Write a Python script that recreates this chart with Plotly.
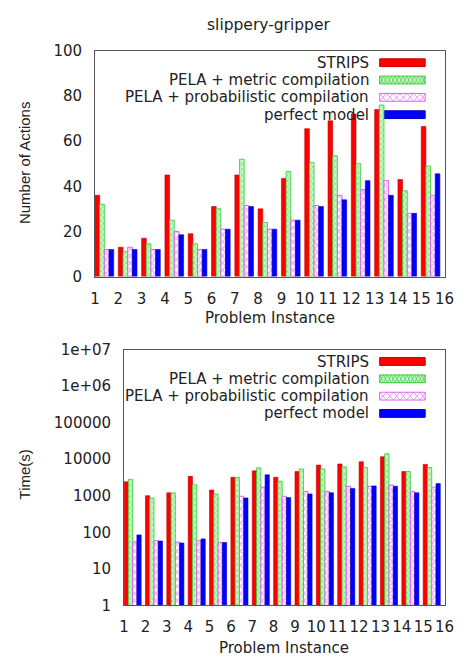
import plotly.graph_objects as go

# ---------------- data ----------------
instances = list(range(1, 16))
series_names = ["STRIPS", "PELA + metric compilation",
                "PELA + probabilistic compilation", "perfect model"]

actions_strips = [36, 13, 17, 45, 19, 31, 45, 30, 43.5, 65.5, 69, 72, 74, 43, 66.5]
actions_metric = [32, 11, 14.5, 25, 14.5, 30, 52, 24, 46.5, 50.5, 53.5, 50, 76, 38, 49]
actions_prob = [12, 13, 12, 20, 12, 21, 31.5, 21, 25, 31.5, 36, 38.5, 42.5, 28, 36]
actions_perfect = [12, 12, 12, 18.5, 12, 21, 31, 21, 25, 31, 34, 42.5, 36, 28, 45.5]

time_strips = [2400, 1000, 1200, 3400, 1430, 3200, 4800, 3200, 4600, 6900, 7400, 8500, 11700, 4600, 7200]
time_metric = [2800, 870, 1200, 2000, 1120, 3200, 5800, 2500, 5400, 5400, 6200, 5900, 14100, 4600, 5900]
time_prob = [55, 59, 54, 59, 53, 970, 1720, 970, 1320, 1320, 1820, 1820, 1980, 1320, 1720]
time_perfect = [85, 58, 51, 66, 53, 870, 3740, 890, 1120, 1210, 1590, 1860, 1820, 1210, 2150]

x_tick_labels = [str(i) for i in range(1, 17)]
y1_tick_vals = [0, 20, 40, 60, 80, 100]
y2_tick_vals = [1, 10, 100, 1000, 10000, 100000, 1000000, 10000000]
y2_tick_text = ["1", "10", "100", "1000", "10000", "100000", "1e+06", "1e+07"]

# ---------------- styling ----------------
W, H = 471, 666
FONT = "DejaVu Sans, Verdana, sans-serif"
FONT_ROT = "Liberation Sans, Arial, sans-serif"
FS = 15
TXT = "#222222"


def px(x):
    return x / W


def py(y):
    return 1 - y / H


styles = [
    dict(color="#ff0000", line=dict(color="#c00000", width=0.6)),
    dict(color="#b8f2b8", line=dict(color="#33cc33", width=0.8),
         pattern=dict(shape="x", fgcolor="#44cc44", bgcolor="#c8f7c8", size=4, solidity=0.35)),
    dict(color="#ffffff", line=dict(color="#d966ec", width=1),
         pattern=dict(shape="x", fgcolor="#e070f0", bgcolor="#ffffff", size=5, solidity=0.55)),
    dict(color="#0000ff", line=dict(color="#0000bb", width=0.6)),
]

fig = go.Figure()

top_series = [actions_strips, actions_metric, actions_prob, actions_perfect]
bot_series = [time_strips, time_metric, time_prob, time_perfect]

for name, vals, st in zip(series_names, top_series, styles):
    fig.add_trace(go.Bar(x=instances, y=vals, name=name, marker=st,
                         xaxis="x", yaxis="y", showlegend=False))
for name, vals, st in zip(series_names, bot_series, styles):
    fig.add_trace(go.Bar(x=instances, y=vals, name=name, marker=st,
                         xaxis="x2", yaxis="y2", showlegend=False))

axis_common = dict(showline=True, mirror=True, linecolor="#555555", linewidth=1,
                   showgrid=False, zeroline=False, ticks="",
                   tickfont=dict(family=FONT, size=FS, color=TXT))

x_tickvals = [i - 0.4 for i in range(1, 17)]

fig.update_layout(
    width=W, height=H,
    margin=dict(l=0, r=0, t=0, b=0),
    paper_bgcolor="white", plot_bgcolor="white",
    barmode="group", bargap=0.2, bargroupgap=0,
    showlegend=False,
    xaxis=dict(domain=[px(93), px(454)], anchor="y", range=[0.6, 15.6],
               tickvals=x_tickvals, ticktext=x_tick_labels, ticklabelstandoff=8,
               **axis_common),
    yaxis=dict(domain=[py(275), py(43)], anchor="x", range=[0, 100],
               tickvals=y1_tick_vals, ticklabelstandoff=9, **axis_common),
    xaxis2=dict(domain=[px(123), px(454)], anchor="y2", range=[0.6, 15.6],
                tickvals=x_tickvals, ticktext=x_tick_labels, ticklabelstandoff=8,
                **axis_common),
    yaxis2=dict(domain=[py(613), py(350)], anchor="x2", type="log", range=[0, 7],
                tickvals=y2_tick_vals, ticktext=y2_tick_text, ticklabelstandoff=9,
                **axis_common),
)

annotations = []
shapes = []


def text(x, y, s, size=FS, xanchor="center", angle=0, family=FONT):
    annotations.append(dict(x=px(x), y=py(y), xref="paper", yref="paper", text=s,
                            showarrow=False, xanchor=xanchor, yanchor="middle",
                            textangle=angle, borderpad=0,
                            font=dict(family=family, size=size, color=TXT)))


text(273, 16, "slippery-gripper", size=15.5)
text(20, 158, "Number of Actions", size=15, angle=-90, family=FONT_ROT)
text(273.5, 318, "Problem Instance")
text(20, 478, "Time(s)", size=15, angle=-90, family=FONT_ROT)
text(288.5, 657, "Problem Instance")


def legend(rows_y):
    for name, st, yc in zip(series_names, styles, rows_y):
        text(377, yc, name, xanchor="right")
        x0, x1 = 387, 434
        y0, y1 = yc - 4, yc + 4
        if "pattern" in st:
            fill = st["pattern"]["bgcolor"]
        else:
            fill = st["color"]
        shapes.append(dict(type="rect", xref="paper", yref="paper", layer="below",
                           x0=px(x0), x1=px(x1), y0=py(y1), y1=py(y0),
                           fillcolor=fill, line=dict(color=st["line"]["color"], width=1)))
        if "pattern" in st:
            step = 4 if st["pattern"]["size"] <= 4 else 7
            path = ""
            xs = x0
            while xs < x1:
                xe = min(xs + step, x1)
                path += f"M{px(xs)},{py(y0)} L{px(xe)},{py(y1)} "
                path += f"M{px(xs)},{py(y1)} L{px(xe)},{py(y0)} "
                xs += step
            shapes.append(dict(type="path", xref="paper", yref="paper", layer="below",
                               path=path,
                               line=dict(color=st["pattern"]["fgcolor"], width=0.7)))


legend([55.2, 73.0, 90.8, 108.6])
legend([362.3, 380.1, 397.9, 415.7])

fig.update_layout(annotations=annotations, shapes=shapes)

fig.write_html("out.html",
               config={"displayModeBar": False},
               post_script="document.body.style.margin='0px';"
                           "document.documentElement.style.overflow='hidden';")
